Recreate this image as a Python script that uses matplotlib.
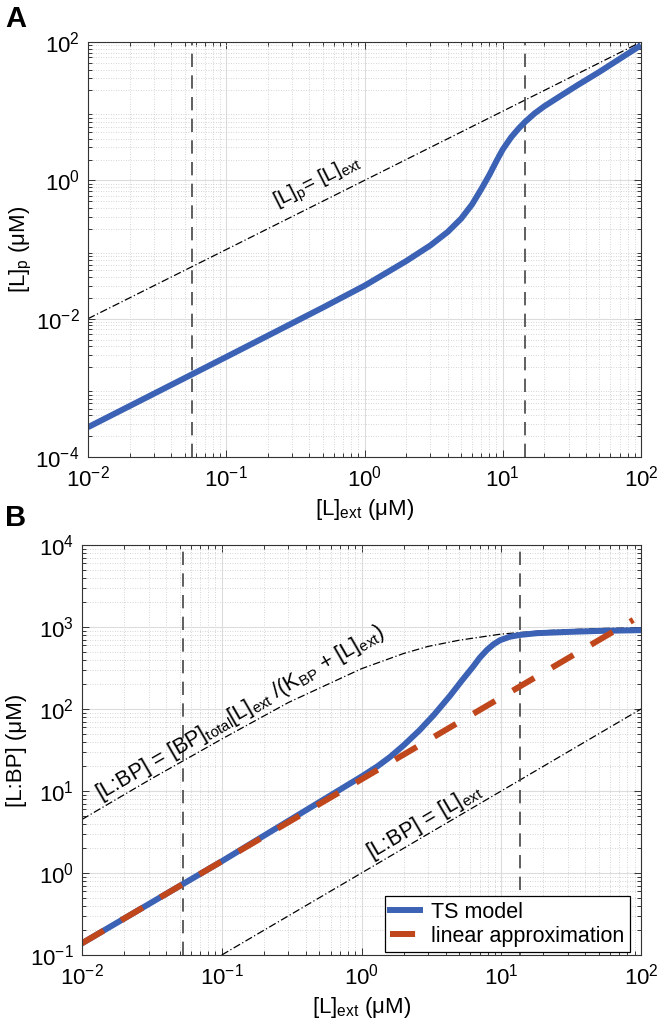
import numpy as np
import matplotlib.pyplot as plt

plt.rcParams['font.family'] = ['Liberation Sans', 'DejaVu Sans']
plt.rcParams['mathtext.fontset'] = 'custom'
plt.rcParams['mathtext.rm'] = 'Liberation Sans'
plt.rcParams['mathtext.it'] = 'Liberation Sans:italic'
plt.rcParams['mathtext.bf'] = 'Liberation Sans:bold'

# ---- panel A data ----
l_ext_a = [0.01, 0.1, 0.5, 1, 2, 3, 4, 5, 6, 7, 8, 9, 10, 11.5, 13, 14.5, 17, 20, 26,
           35, 50, 70, 100]
l_p = [2.7e-4, 2.8e-3, 1.45e-2, 0.03, 0.068, 0.115, 0.18, 0.28, 0.45, 0.75, 1.2, 1.9,
       2.8, 4.2, 5.6, 7, 9.3, 11.8, 16.5, 24, 37, 57, 90]
ident_a = [1e-2, 1e2]
vlines_a = [0.057, 14.5]

# ---- panel B data ----
l_ext_b = [0.01, 0.1, 1, 1.3, 1.6, 2, 2.6, 3.3, 4.3, 5.2, 6.3, 7, 7.9, 8.8, 9.8, 11.5,
           13.6, 18, 29.5, 50, 100]
l_bp = [0.139, 1.39, 15, 20, 26, 36, 55, 85, 145, 220, 330, 420, 525, 615, 690, 760,
        800, 840, 870, 895, 915]
lin_x = [0.01, 88]
lin_y = [0.139, 1220]
sat_x = [0.01, 0.03, 0.1, 0.3, 1, 2, 3, 5, 10, 20, 50, 100]
sat_y = [4.5, 13.5, 43, 120, 310, 475, 580, 690, 820, 900, 958, 978]
ident_b = [1e-1, 1e2]
vlines_b = [0.053, 13.6]

blue = '#3c62b5'
red = '#c0461c'

fig = plt.figure(figsize=(6.64, 10.25), dpi=100)
axA = fig.add_axes([0.1325, 0.5541, 0.8329, 0.4049])
axB = fig.add_axes([0.1235, 0.0683, 0.8419, 0.4000])


def style(ax):
    ax.set_xscale('log')
    ax.set_yscale('log')
    ax.grid(True, which='major', color='#dcdcdc', lw=0.8, ls='-')
    ax.grid(True, which='minor', color='#c8c8c8', lw=0.6, ls=(0, (1, 2)))
    ax.tick_params(which='both', direction='in', top=True, right=True,
                   labelsize=16, width=0.7, color='#333333')
    ax.tick_params(which='major', length=5, pad=6)
    ax.tick_params(which='minor', length=3)
    for s in ax.spines.values():
        s.set_color('#333333')
        s.set_linewidth(0.8)
    ax.set_axisbelow(True)


style(axA)
axA.plot(ident_a, ident_a, color='k', lw=0.9, ls=(0, (6, 2, 1, 2)))
for v in vlines_a:
    axA.axvline(v, color='#444444', lw=1.2, ls=(0, (8, 5)))
axA.plot(l_ext_a, l_p, color=blue, lw=4.3, solid_capstyle='butt', solid_joinstyle='round')
axA.set_xlim(1e-2, 1e2)
axA.set_ylim(1e-4, 1e2)
axA.set_xticks([1e-2, 1e-1, 1e0, 1e1, 1e2])
axA.set_yticks([1e-4, 1e-2, 1e0, 1e2])
axA.set_xlabel(r'[L]$_\mathregular{ext}$ (μM)', fontsize=16, labelpad=4)
axA.set_ylabel(r'[L]$_\mathregular{p}$ (μM)', fontsize=16, labelpad=1)
axA.text(0.46, 0.95, r'[L]$_\mathregular{p}$= [L]$_\mathregular{ext}$', fontsize=15,
         rotation=26.6, ha='center', va='center')

style(axB)
axB.plot(ident_b, ident_b, color='k', lw=0.9, ls=(0, (6, 2, 1, 2)))
axB.plot(sat_x, sat_y, color='k', lw=0.9, ls=(0, (6, 2, 1, 2)))
for v in vlines_b:
    axB.axvline(v, color='#444444', lw=1.2, ls=(0, (8, 5)))
axB.plot(l_ext_b, l_bp, color=blue, lw=4.3, solid_joinstyle='round', label='TS model')
axB.plot(lin_x, lin_y, color=red, lw=4.3, ls=(0, (4.2, 3.4)), label='linear approximation')
axB.set_xlim(1e-2, 1e2)
axB.set_ylim(1e-1, 1e4)
axB.set_xticks([1e-2, 1e-1, 1e0, 1e1, 1e2])
axB.set_yticks([1e-1, 1e0, 1e1, 1e2, 1e3, 1e4])
axB.set_xlabel(r'[L]$_\mathregular{ext}$ (μM)', fontsize=16, labelpad=4)
axB.set_ylabel('[L:BP] (μM)', fontsize=16, labelpad=2)
axB.text(0.135, 89, r'[L:BP] = [BP]$_\mathregular{total}$[L]$_\mathregular{ext}$ /(K$_\mathregular{BP}$ + [L]$_\mathregular{ext}$)',
         fontsize=15.5, rotation=30, ha='center', va='center')
axB.text(2.8, 4.3, r'[L:BP] = [L]$_\mathregular{ext}$', fontsize=15.5, rotation=30.4,
         ha='center', va='center')
leg = axB.legend(loc='lower right', fontsize=15.5, frameon=True, fancybox=False,
                 edgecolor='k', framealpha=1, borderpad=0.25, handlelength=1.4,
                 handletextpad=0.5, labelspacing=0.15, borderaxespad=0.0,
                 bbox_to_anchor=(0.980, 0.007))
leg.get_frame().set_linewidth(0.9)

fig.text(0.008, 0.995, 'A', fontsize=21, fontweight='bold', va='top')
fig.text(0.008, 0.508, 'B', fontsize=21, fontweight='bold', va='top')

fig.savefig('out.png', dpi=100)
